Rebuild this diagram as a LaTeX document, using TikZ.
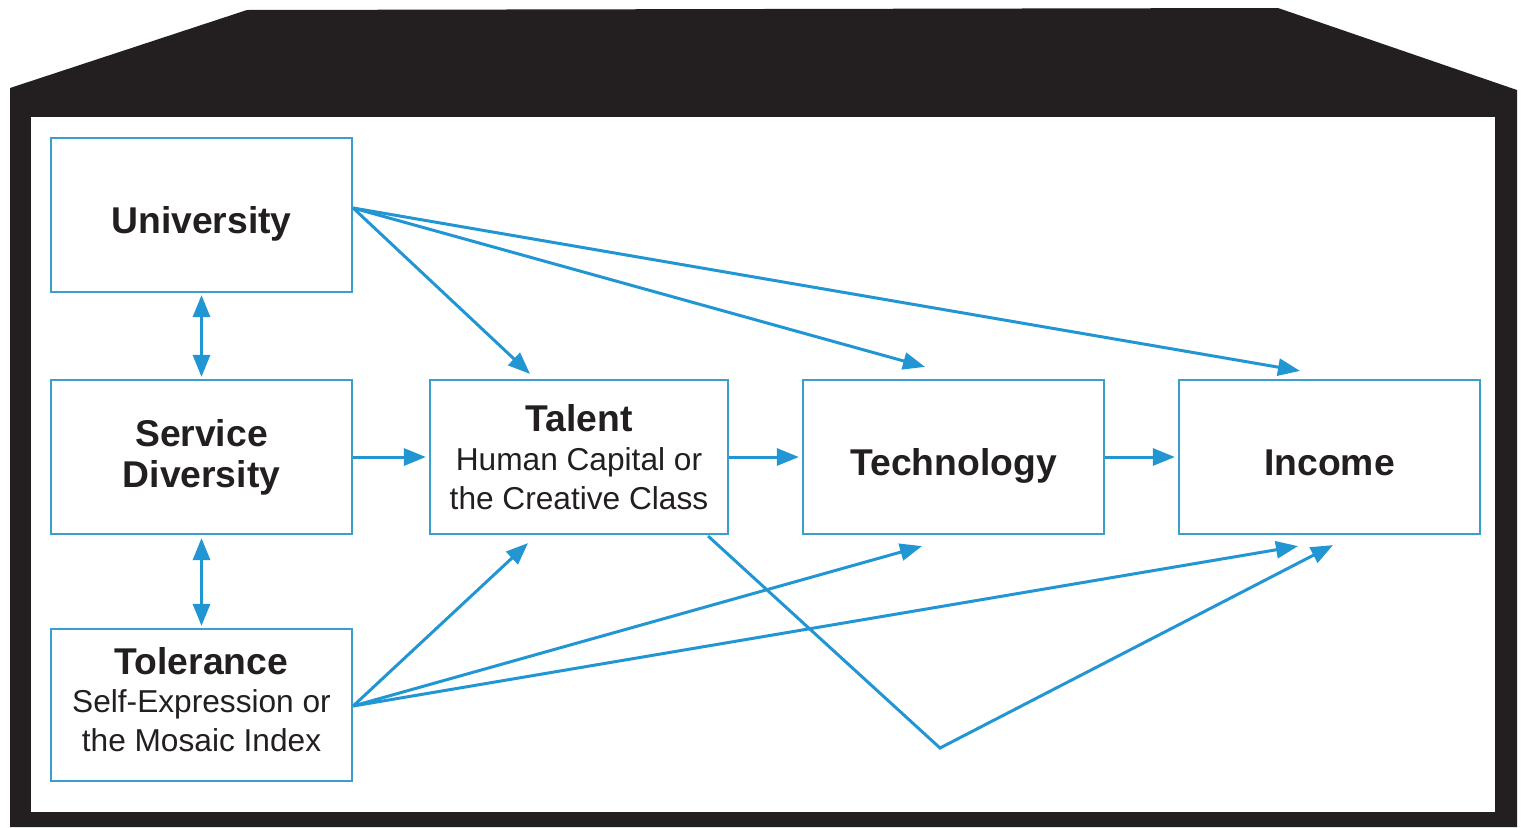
\documentclass[tikz,border=0pt]{standalone}
\usepackage{fontspec}
\setmainfont{Liberation Sans}
\usetikzlibrary{arrows.meta,calc}
\definecolor{arrowblue}{HTML}{2196D3}
\definecolor{boxblue}{HTML}{3A9FCF}
\definecolor{txt}{HTML}{231F20}
\newcommand{\ttl}[1]{{\fontsize{10.6pt}{11.6pt}\selectfont\bfseries #1}}
\newcommand{\sub}[1]{{\fontsize{9pt}{11pt}\selectfont #1}}
\begin{document}
\begin{tikzpicture}[x=0.01cm,y=-0.01cm,
  box/.style={draw=boxblue,line width=0.6pt,fill=white,minimum width=3.01cm,minimum height=1.54cm,inner sep=0pt,align=center,text=txt,font=\fontsize{9pt}{11pt}\selectfont},
  single/.style={text height=10.5pt,text depth=0pt},
  arr/.style={draw=arrowblue,line width=0.85pt,-{Triangle[length=0.22cm,width=0.17cm]}},
  darr/.style={draw=arrowblue,line width=0.85pt,{Triangle[length=0.22cm,width=0.17cm]}-{Triangle[length=0.22cm,width=0.17cm]}}]
\useasboundingbox (0,0) rectangle (1521,827);
% house
\fill[fill=txt] (10,827) -- (10,88) -- (247,10) -- (1278,8) -- (1517,90) -- (1517,827) -- cycle;
\fill[white] (31,117) rectangle (1495,812);
% boxes
\node[box,single] (uni) at (201.5,215) {\ttl{University}};
\node[box,font=\fontsize{10.6pt}{11.6pt}\selectfont] (svc) at (201.5,457) {\ttl{Service}\\\ttl{Diversity}};
\node[box,minimum height=1.52cm,text depth=3.2pt] (tol) at (201.5,705) {\ttl{Tolerance}\\\sub{Self-Expression or}\\\sub{the Mosaic Index}};
\node[box,minimum width=2.98cm] (tal) at (579,457) {\ttl{Talent}\\\sub{Human Capital or}\\\sub{the Creative Class}};
\node[box,single] (tec) at (953.5,457) {\ttl{Technology}};
\node[box,single] (inc) at (1329.5,457) {\ttl{Income}};
\coordinate (v) at (940,748);
% arrows
\draw[darr] ($(uni.south)+(0,2)$) -- ($(svc.north)+(0,-2)$);
\draw[darr] ($(svc.south)+(0,3)$) -- ($(tol.north)+(0,-2)$);
\draw[arr] (svc.east) -- ($(tal.west)+(-3,0)$);
\draw[arr] (tal.east) -- ($(tec.west)+(-3,0)$);
\draw[arr] (tec.east) -- ($(inc.west)+(-3,0)$);
\draw[arr] ($(uni.east)+(0,-7)$) -- ($(tal.north)+(-49,-5)$);
\draw[arr] ($(uni.east)+(0,-7)$) -- ($(tec.north)+(-28.5,-12)$);
\draw[arr] ($(uni.east)+(0,-7)$) -- ($(inc.north)+(-29.5,-8)$);
\draw[arr] ($(tol.east)+(0,1)$) -- ($(tal.south)+(-51,8)$);
\draw[arr] ($(tol.east)+(0,1)$) -- ($(tec.south)+(-31.5,11)$);
\draw[arr] ($(tol.east)+(0,1)$) -- ($(inc.south)+(-31.5,11)$);
\draw[arr,line join=miter] ($(tal.south east)+(-21,1)$) -- (v) -- ($(inc.south)+(3.5,10)$);
\end{tikzpicture}
\end{document}
